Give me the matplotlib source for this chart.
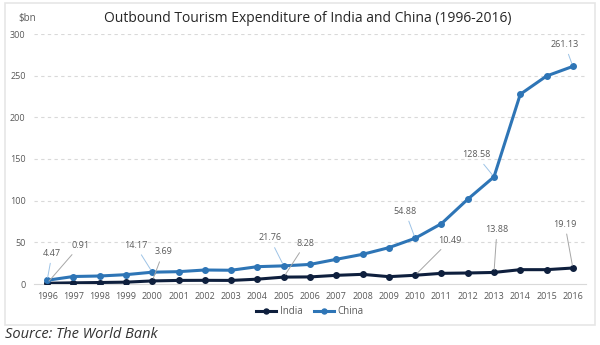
import matplotlib.pyplot as plt
from matplotlib.patches import Rectangle

years = list(range(1996, 2017))
india = [0.91, 1.4, 1.8, 2.2, 3.69, 4.3, 4.4, 4.3, 5.8, 8.28, 8.5,
         10.4, 11.6, 8.8, 10.49, 12.8, 13.2, 13.88, 17.2, 17.2, 19.19]
china = [4.47, 9.0, 9.6, 11.2, 14.17, 14.8, 16.8, 16.5, 20.8, 21.76, 23.5,
         29.6, 35.6, 43.6, 54.88, 72.4, 101.7, 128.58, 227.7, 249.6, 261.13]

# year -> pixel offset of the data label
labels_china = {1996: (5, 27), 2000: (-17, 27), 2005: (-14, 28), 2010: (-10, 27),
                2013: (-18, 22), 2016: (-8, 22)}
labels_india = {1996: (33, 38), 2000: (11, 29), 2005: (22, 34), 2010: (35, 35),
                2013: (3, 43), 2016: (-8, 44)}

plt.rcParams['font.family'] = ['Open Sans', 'DejaVu Sans']

india_col = '#0e1f3d'
china_col = '#2e75b6'
text_col = '#595959'

fig = plt.figure(figsize=(6, 3.45), dpi=100)
fig.patches.append(Rectangle((5 / 600, 1 - 325 / 345), 590 / 600, 322 / 345,
                             transform=fig.transFigure, fill=False,
                             edgecolor='#e6e6e6', linewidth=1.2))

ax = fig.add_axes([34 / 600, 61 / 345, 552 / 600, 250 / 345])
ax.plot(years, india, color=india_col, lw=2.2, marker='o', ms=4, label='India', zorder=3)
ax.plot(years, china, color=china_col, lw=2.2, marker='o', ms=4, label='China', zorder=3)

ax.set_xlim(1995.5, 2016.5)
ax.set_ylim(0, 300)
ax.set_xticks(years)
ax.set_yticks(range(0, 301, 50))
ax.tick_params(length=0, labelsize=6.5, labelcolor=text_col, pad=6)
for s in ['top', 'right', 'left']:
    ax.spines[s].set_visible(False)
ax.spines['bottom'].set_color('#d9d9d9')
for yv in range(50, 301, 50):
    ax.axhline(yv, color='#d9d9d9', lw=0.8, ls=(0, (3, 3)), zorder=0)

for series, labs, col in [(china, labels_china, '#9dc3e6'), (india, labels_india, '#a6a6a6')]:
    for yr, off in labs.items():
        v = series[years.index(yr)]
        ax.annotate(f'{v:.2f}', (yr, v), xytext=off, textcoords='offset pixels',
                    ha='center', va='center', fontsize=6.5, color=text_col,
                    arrowprops=dict(arrowstyle='-', color=col, lw=0.7,
                                    shrinkA=2, shrinkB=2), zorder=4)

fig.text(18 / 600, 1 - 18 / 345, '$bn', fontsize=7, color=text_col, ha='left', va='center')
fig.text(0.5 + 8 / 600, 1 - 19 / 345, 'Outbound Tourism Expenditure of India and China (1996-2016)',
         fontsize=10, weight='medium', color='#262626', ha='center', va='center')

ax.legend(loc='center', bbox_to_anchor=(0.5, -28 / 250), ncol=2, frameon=False,
          fontsize=7, handlelength=2, handletextpad=0.4, columnspacing=1.2,
          labelcolor=text_col, markerscale=0.9)

fig.text(5 / 600, 1 - 334 / 345, 'Source: The World Bank', fontsize=10.5, style='italic',
         color='#333333', ha='left', va='center')

fig.savefig('out.png', dpi=100)
